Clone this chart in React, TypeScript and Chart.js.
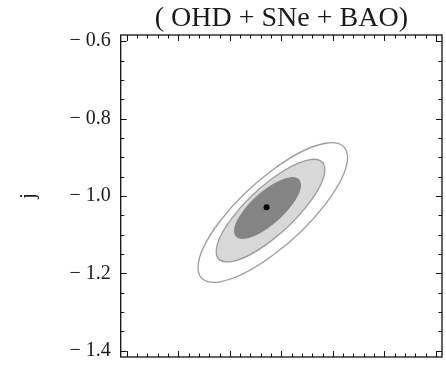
import { useEffect, useRef } from 'react';
import { Chart, registerables } from 'chart.js';

Chart.register(...registerables);

// Axis ranges and major tick values (deceleration q on x, jerk j on y)
const qRange = [-0.812, -0.188];
const jRange = [-1.416, -0.584];
const qTicks = [-0.8, -0.7, -0.6, -0.5, -0.4, -0.3, -0.2];
const jTicks = [-1.4, -1.2, -1.0, -0.8, -0.6];

// Confidence contours, outermost first
const contourLevels = ['3σ', '2σ', '1σ'];
const contourCenterQ = [-0.5166, -0.521, -0.5268];
const contourCenterJ = [-1.0427, -1.0377, -1.031];
const contourHalfWidthQ = [0.1452, 0.1055, 0.0639];
const contourHalfHeightJ = [0.1804, 0.1326, 0.0783];
const contourCorrelation = [0.79, 0.8, 0.76];

// Best-fit point
const bestFitQ = [-0.5287];
const bestFitJ = [-1.0292];

const CONTOUR_FILL = ['#ffffff', '#d8d8d8', '#848484'];
const CONTOUR_STROKE = ['#9c9c9c', '#9c9c9c', '#848484'];
const TEXT = '#1a1a1a';
const SERIF = '"Liberation Serif", "Times New Roman", serif';

const contourPlugin = {
  id: 'contours',
  beforeDatasetsDraw(chart: any) {
    const { ctx, chartArea, scales } = chart;
    const x = scales.x;
    const y = scales.y;
    const pxPerQ = x.getPixelForValue(1) - x.getPixelForValue(0);
    const pxPerJ = y.getPixelForValue(0) - y.getPixelForValue(1);
    ctx.save();
    ctx.beginPath();
    ctx.rect(chartArea.left, chartArea.top, chartArea.width, chartArea.height);
    ctx.clip();
    contourLevels.forEach((_, i) => {
      const hx = contourHalfWidthQ[i] * pxPerQ;
      const hy = contourHalfHeightJ[i] * pxPerJ;
      const r = contourCorrelation[i];
      ctx.save();
      ctx.transform(
        hx,
        -r * hy,
        0,
        -Math.sqrt(1 - r * r) * hy,
        x.getPixelForValue(contourCenterQ[i]),
        y.getPixelForValue(contourCenterJ[i])
      );
      ctx.beginPath();
      ctx.arc(0, 0, 1, 0, Math.PI * 2);
      ctx.closePath();
      ctx.restore();
      ctx.fillStyle = CONTOUR_FILL[i];
      ctx.fill();
      ctx.lineWidth = 1.3;
      ctx.strokeStyle = CONTOUR_STROKE[i];
      ctx.stroke();
    });
    ctx.restore();
  },
};

// Frame with inward-pointing major and minor ticks on all four sides
const framePlugin = {
  id: 'frame',
  afterDraw(chart: any) {
    const { ctx, chartArea, scales } = chart;
    const { left, right, top, bottom } = chartArea;
    const x = scales.x;
    const y = scales.y;
    ctx.save();
    ctx.strokeStyle = '#111';
    ctx.lineWidth = 1;
    ctx.beginPath();
    const major = 6;
    const minor = 3.5;
    const qStep = qTicks[1] - qTicks[0];
    for (let k = 0; k < qTicks.length; k++) {
      for (let m = 0; m < 5; m++) {
        const v = qTicks[k] + (m * qStep) / 5;
        if (v > qRange[1]) continue;
        const px = Math.round(x.getPixelForValue(v)) + 0.5;
        const len = m === 0 ? major : minor;
        ctx.moveTo(px, bottom);
        ctx.lineTo(px, bottom - len);
        ctx.moveTo(px, top);
        ctx.lineTo(px, top + len);
      }
    }
    const jStep = jTicks[1] - jTicks[0];
    for (let k = 0; k < jTicks.length; k++) {
      for (let m = 0; m < 4; m++) {
        const v = jTicks[k] + (m * jStep) / 4;
        if (v > jRange[1]) continue;
        const py = Math.round(y.getPixelForValue(v)) + 0.5;
        const len = m === 0 ? major : minor;
        ctx.moveTo(left, py);
        ctx.lineTo(left + len, py);
        ctx.moveTo(right, py);
        ctx.lineTo(right - len, py);
      }
    }
    ctx.stroke();
    ctx.lineWidth = 1.3;
    ctx.strokeStyle = '#111';
    ctx.strokeRect(left, top, right - left, bottom - top);
    ctx.restore();
  },
};

export default function App() {
  const canvasRef = useRef<HTMLCanvasElement | null>(null);

  useEffect(() => {
    if (!canvasRef.current) return;
    const chart = new Chart(canvasRef.current, {
      type: 'scatter',
      data: {
        datasets: [
          {
            label: 'best fit',
            data: bestFitQ.map((q, i) => ({ x: q, y: bestFitJ[i] })),
            pointRadius: 3,
            pointBackgroundColor: '#000',
            pointBorderWidth: 0,
          },
        ],
      },
      options: {
        responsive: false,
        animation: false,
        layout: { padding: { right: 3 } },
        plugins: {
          legend: { display: false },
          tooltip: { enabled: false },
          title: {
            display: true,
            text: '( OHD + SNe + BAO)',
            fullSize: false,
            color: TEXT,
            font: { family: SERIF, size: 28, weight: 'normal' },
            padding: { top: 1.4, bottom: 0 },
          },
        },
        scales: {
          x: {
            type: 'linear',
            min: qRange[0],
            max: qRange[1],
            grid: { display: false },
            border: { display: false },
            ticks: { display: false },
            afterFit: (s: any) => {
              s.height = 9;
              s.paddingLeft = 0;
              s.paddingRight = 0;
            },
          },
          y: {
            type: 'linear',
            min: jRange[0],
            max: jRange[1],
            grid: { display: false, drawTicks: false },
            border: { display: false },
            afterBuildTicks: (s: any) => {
              s.ticks = jTicks.map((value) => ({ value }));
            },
            ticks: {
              autoSkip: false,
              padding: 10,
              color: TEXT,
              font: { family: SERIF, size: 20 },
              callback: (v: any) => '\u2212 ' + Math.abs(Number(v)).toFixed(1),
            },
            title: {
              display: true,
              text: 'j',
              color: TEXT,
              font: { family: SERIF, size: 20 },
              padding: { top: 17, bottom: 0 },
            },
            afterFit: (s: any) => {
              s.width = 120.7;
              s.paddingTop = 0;
              s.paddingBottom = 0;
            },
          },
        },
      },
      plugins: [contourPlugin, framePlugin],
    });
    return () => chart.destroy();
  }, []);

  return (
    <div style={{ position: 'fixed', left: 0, top: 0, width: 446, height: 366, background: '#fff' }}>
      <canvas ref={canvasRef} width={446} height={366} style={{ width: 446, height: 366, display: 'block' }} />
    </div>
  );
}
